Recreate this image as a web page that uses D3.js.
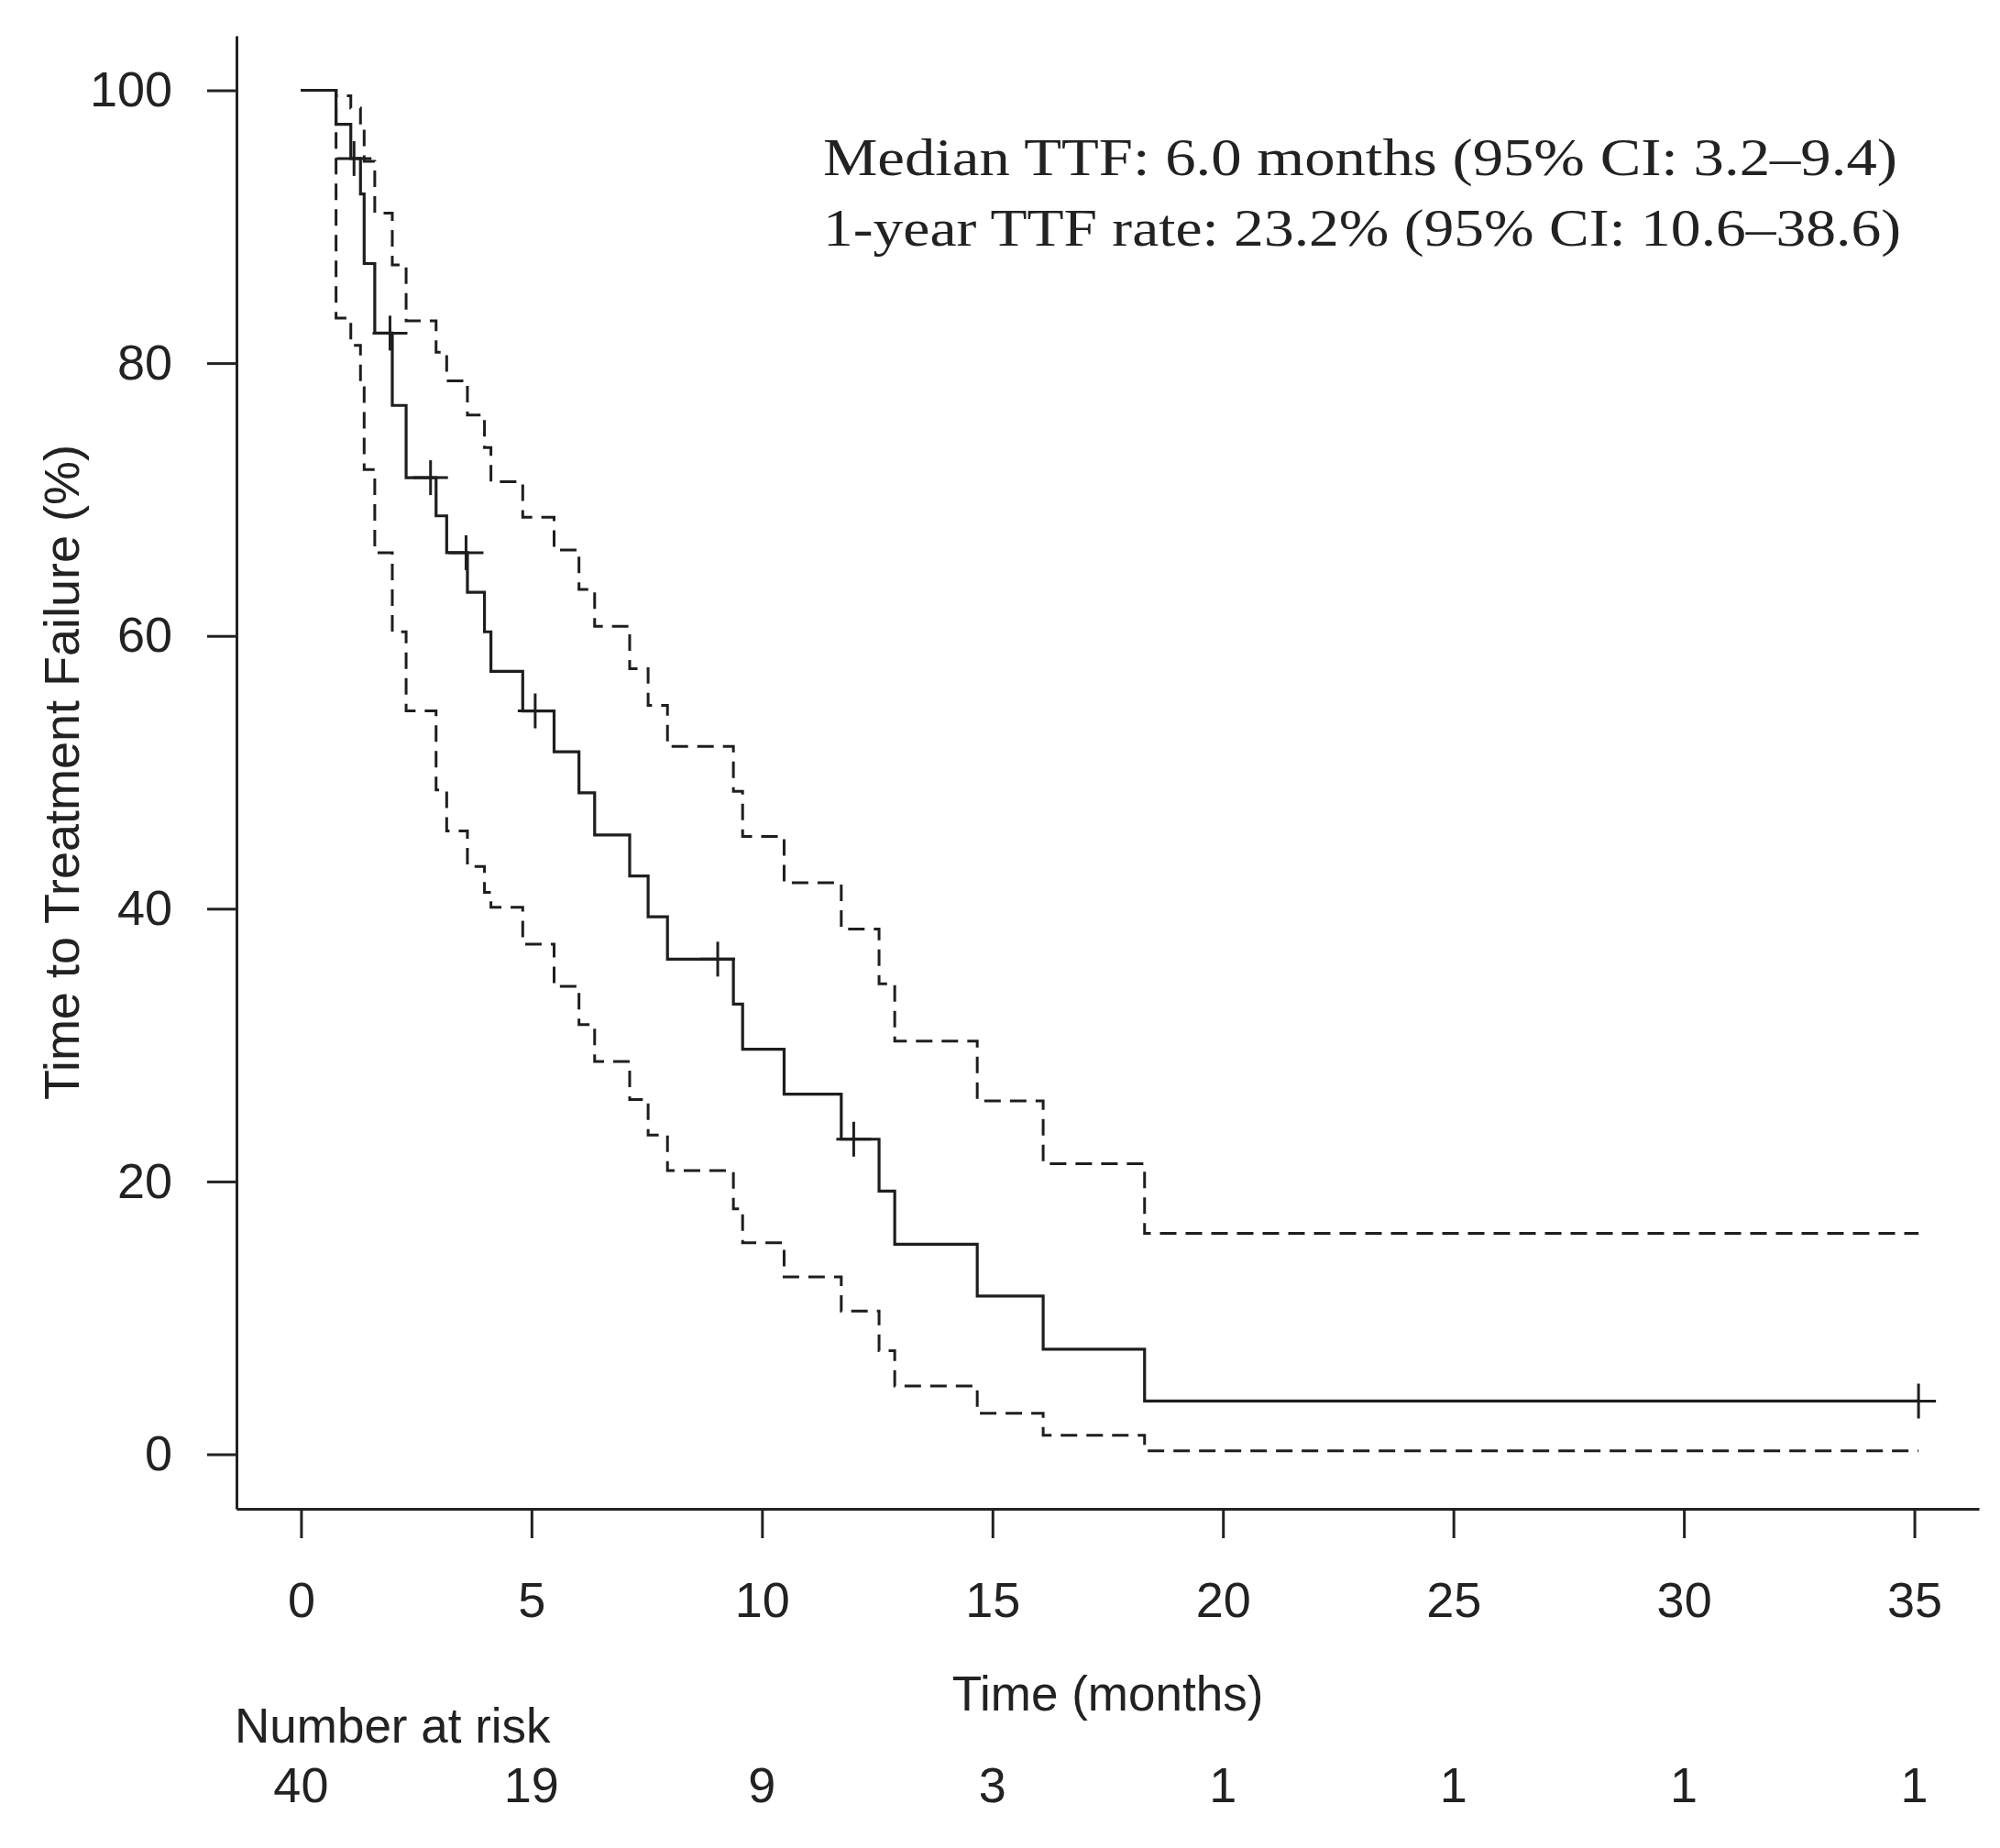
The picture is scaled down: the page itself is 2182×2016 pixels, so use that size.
<!DOCTYPE html>
<html>
<head>
  <title>Time to treatment failure</title>
  <script src="https://cdn.jsdelivr.net/npm/d3@7"></script>
  <style>
    body { margin: 0; background: #fff; }
    text { font-family: "Liberation Sans", Arial, sans-serif; fill: #222; }
  </style>
</head>
<body>
  <svg width="2182" height="2016"></svg>
<script>

// Kaplan-Meier step data (time in months, % free of failure)
const kmTimes = [0, 0.76, 1.08, 1.29, 1.37, 1.60, 1.98, 2.28, 2.93, 3.16, 3.61, 3.98, 4.12, 4.81, 5.49,
                 6.03, 6.37, 7.13, 7.53, 7.95, 9.38, 9.58, 10.48, 11.72, 12.54, 12.88, 14.67, 16.10, 18.30];
const kmSurv  = [100, 97.5, 95.0, 92.4, 87.3, 82.2, 76.9, 71.6, 68.8, 66.1, 63.2, 60.3, 57.4, 54.5, 51.5,
                 48.5, 45.4, 42.4, 39.4, 36.3, 33.0, 29.7, 26.4, 23.1, 19.3, 15.4, 11.6, 7.7, 3.9];
const upperCI = [100, 99.6, 98.7, 97.4, 94.8, 91.0, 87.2, 83.1, 80.8, 78.7, 76.2, 73.8, 71.3, 68.7, 66.3,
                 63.4, 60.7, 57.6, 54.9, 51.9, 48.6, 45.3, 41.9, 38.5, 34.5, 30.3, 25.9, 21.3, 16.2];
const lowerCI = [100, 83.3, 81.3, 78.2, 72.2, 66.1, 60.3, 54.5, 48.7, 45.7, 43.1, 41.2, 40.1, 37.4, 34.3,
                 31.5, 28.8, 26.0, 23.4, 20.8, 18.0, 15.5, 13.0, 10.5, 7.6, 5.0, 3.0, 1.4, 0.25];
const endTime = 35.09;
const censorTimes = [1.15, 1.93, 2.81, 3.58, 5.08, 9.04, 11.99, 35.09];

const xTicks = [0, 5, 10, 15, 20, 25, 30, 35];
const yTicks = [0, 20, 40, 60, 80, 100];
const atRisk = [40, 19, 9, 3, 1, 1, 1, 1];

const notes = ['Median TTF: 6.0 months (95% CI: 3.2\u20139.4)',
               '1-year TTF rate: 23.2% (95% CI: 10.6\u201338.6)'];

let svg = d3.select('svg');

let x = d3.scaleLinear().domain([-1.4, 36.4]).range([258, 2159]);
let y = d3.scaleLinear().domain([-4, 104]).range([1646, 39]);

// axes (R style "l" box)
let xAxis = svg.append('g').attr('transform', 'translate(0,1646)')
  .call(d3.axisBottom(x).tickValues(xTicks).tickSize(32).tickSizeOuter(0).tickPadding(48));
let yAxis = svg.append('g').attr('transform', 'translate(258,0)')
  .call(d3.axisLeft(y).tickValues(yTicks).tickSize(32).tickSizeOuter(0).tickPadding(38));

[xAxis, yAxis].forEach(g => {
  g.selectAll('path, line').attr('stroke', '#222').attr('stroke-width', 3);
  g.selectAll('text').style('font-size', '54px').attr('fill', '#222')
    .style('font-family', '"Liberation Sans", Arial, sans-serif');
});

// curves
let stepData = (vals) => {
  let pts = kmTimes.map((t, i) => [t, vals[i]]);
  pts.push([endTime, vals[vals.length - 1]]);
  return pts;
};

let line = d3.line()
  .x(d => x(d[0]))
  .y(d => y(d[1]))
  .curve(d3.curveStepAfter);

[upperCI, lowerCI].forEach(ci => {
  svg.append('path')
    .attr('d', line(stepData(ci)))
    .attr('fill', 'none')
    .attr('stroke', '#1e1e1e')
    .attr('stroke-width', 3)
    .attr('stroke-dasharray', '18,10');
});

svg.append('path')
  .attr('d', line(stepData(kmSurv)))
  .attr('fill', 'none')
  .attr('stroke', '#1e1e1e')
  .attr('stroke-width', 3.2);

// censor marks
let survAt = (t) => {
  let i = d3.bisectRight(kmTimes, t) - 1;
  return kmSurv[Math.max(0, i)];
};
let cs = 19;
censorTimes.forEach(t => {
  let cx = x(t), cy = y(survAt(t));
  svg.append('line').attr('x1', cx - cs).attr('x2', cx + cs).attr('y1', cy).attr('y2', cy)
    .attr('stroke', '#1e1e1e').attr('stroke-width', 3);
  svg.append('line').attr('x1', cx).attr('x2', cx).attr('y1', cy - cs).attr('y2', cy + cs)
    .attr('stroke', '#1e1e1e').attr('stroke-width', 3);
});

// axis titles
svg.append('text')
  .attr('x', (x(0) + x(35)) / 2)
  .attr('y', 1866)
  .attr('text-anchor', 'middle')
  .style('font-size', '53px')
  .text('Time (months)');

svg.append('text')
  .attr('transform', 'translate(86,' + (y(0) + y(100)) / 2 + ') rotate(-90)')
  .attr('text-anchor', 'middle')
  .style('font-size', '54px')
  .text('Time to Treatment Failure (%)');

// number at risk table
svg.append('text')
  .attr('x', 256)
  .attr('y', 1901)
  .style('font-size', '53px')
  .text('Number at risk');

svg.selectAll('.risk')
  .data(atRisk)
  .enter().append('text')
  .attr('class', 'risk')
  .attr('x', (d, i) => x(xTicks[i]))
  .attr('y', 1966)
  .attr('text-anchor', 'middle')
  .style('font-size', '54px')
  .text(d => d);

// annotation
notes.forEach((s, i) => {
  svg.append('text')
    .attr('x', 898)
    .attr('y', 191 + i * 77)
    .attr('textLength', i === 0 ? 1172 : 1176)
    .attr('lengthAdjust', 'spacingAndGlyphs')
    .style('font-family', '"Liberation Serif", "DejaVu Serif", serif')
    .style('font-size', '56px')
    .attr('fill', '#111')
    .text(s);
});

</script>
</body>
</html>
